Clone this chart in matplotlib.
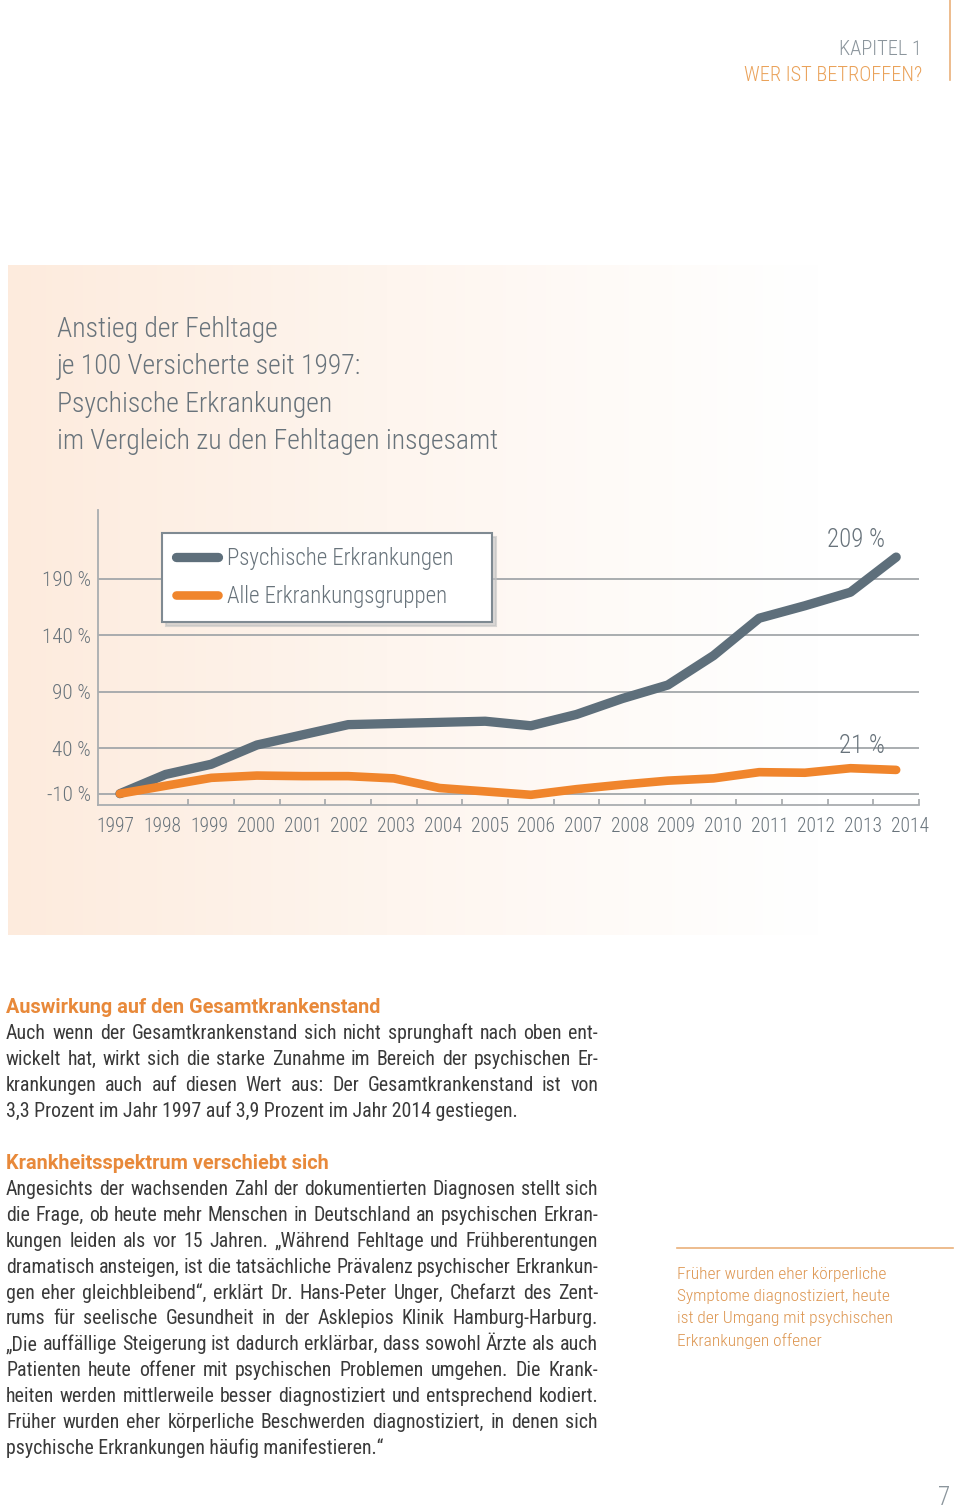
import numpy as np
import matplotlib
matplotlib.use('Agg')
import matplotlib.pyplot as plt

# data (increase since 1997, in %)
jahre = list(range(1997, 2015))
psychisch = [0, 17, 26, 43, 52, 61, 62, 63, 64, 60, 70, 84, 96, 122, 155, 166, 178, 209]
alle = [0, 7, 14, 16, 15.5, 15.5, 13.5, 5, 2, -1, 4, 8, 11.5, 13.5, 19, 18.5, 22.5, 21]

y_ticks = [0, 40, 90, 140, 190]
y_labels = ['-10 %', '40 %', '90 %', '140 %', '190 %']
legend_labels = ['Psychische Erkrankungen', 'Alle Erkrankungsgruppen']

titel = ['Anstieg der Fehltage', 'je 100 Versicherte seit 1997:',
         'Psychische Erkrankungen', 'im Vergleich zu den Fehltagen insgesamt']

absatz1 = ['Auch wenn der Gesamtkrankenstand sich nicht sprunghaft nach oben ent-',
           'wickelt hat, wirkt sich die starke Zunahme im Bereich der psychischen Er-',
           'krankungen auch auf diesen Wert aus: Der Gesamtkrankenstand ist von',
           '3,3 Prozent im Jahr 1997 auf 3,9 Prozent im Jahr 2014 gestiegen.']
absatz2 = ['Angesichts der wachsenden Zahl der dokumentierten Diagnosen stellt sich',
           'die Frage, ob heute mehr Menschen in Deutschland an psychischen Erkran-',
           'kungen leiden als vor 15 Jahren. \u201eWährend Fehltage und Frühberentungen',
           'dramatisch ansteigen, ist die tatsächliche Prävalenz psychischer Erkrankun-',
           'gen eher gleichbleibend\u201c, erklärt Dr. Hans-Peter Unger, Chefarzt des Zent-',
           'rums für seelische Gesundheit in der Asklepios Klinik Hamburg-Harburg.',
           '\u201eDie auffällige Steigerung ist dadurch erklärbar, dass sowohl Ärzte als auch',
           'Patienten heute offener mit psychischen Problemen umgehen. Die Krank-',
           'heiten werden mittlerweile besser diagnostiziert und entsprechend kodiert.',
           'Früher wurden eher körperliche Beschwerden diagnostiziert, in denen sich',
           'psychische Erkrankungen häufig manifestieren.\u201c']
randnotiz = ['Früher wurden eher körperliche', 'Symptome diagnostiziert, heute',
             'ist der Umgang mit psychischen', 'Erkrankungen offener']

W, H = 960, 1507
NARROW = ['Roboto Condensed', 'Liberation Sans Narrow', 'Roboto', 'DejaVu Sans']
GREY = '#5e6f7b'
ORANGE = '#f0852c'
TXTGREY = '#68737b'
HEAD_OR = '#e8893a'

fig = plt.figure(figsize=(W / 100, H / 100), dpi=100)
renderer = fig.canvas.get_renderer()


def fx(x):
    return x / W


def fy(y):
    return 1 - y / H


def fit(text, target, **kw):
    # font size (pt) that makes `text` about `target` px wide
    t = fig.text(0, 0, text, fontsize=10, **kw)
    w = t.get_window_extent(renderer).width
    t.remove()
    return 10 * target / w


light = dict(family=NARROW, weight='light')

# background panel with peach gradient
bg = fig.add_axes([0, 0, 1, 1], zorder=-5)
bg.set_xlim(0, W)
bg.set_ylim(H, 0)
bg.axis('off')
t = np.linspace(0, 1, 400)
fade = np.clip(1 - t / 0.85, 0, 1) ** 1.1
peach = np.array([253, 235, 221]) / 255
grad = 1 - (1 - peach)[None, :] * fade[:, None]
bg.imshow(grad[None, :, :], extent=(8, W, 935, 265), aspect='auto', interpolation='bilinear')

# header
hs = fit('WER IST BETROFFEN?', 177, **light)
fig.text(fx(922), fy(55), 'KAPITEL 1', fontsize=hs, color='#8b959c', ha='right', **light)
fig.text(fx(922), fy(81), 'WER IST BETROFFEN?', fontsize=hs, color='#eaa25a', ha='right', **light)
bg.plot([950, 950], [0, 80], color='#eab07a', lw=1.2)

# chart title
ts = fit(titel[3], 442, **light)
for i, zeile in enumerate(titel):
    fig.text(fx(57), fy(337 + 37.3 * i), zeile, fontsize=ts, color=TXTGREY, **light)

# chart axes
ax = fig.add_axes([fx(98), fy(805), fx(919) - fx(98), (805 - 510) / H])
ax.patch.set_alpha(0)
ax.plot(jahre, psychisch, color=GREY, lw=6.7, solid_capstyle='round', solid_joinstyle='round',
        label=legend_labels[0], zorder=4)
ax.plot(jahre, alle, color=ORANGE, lw=6.2, solid_capstyle='round', solid_joinstyle='round',
        label=legend_labels[1], zorder=4)
ax.set_xlim(1996.52, 2014.5)
ax.set_ylim(-10, 250.6)
for v in y_ticks:
    ax.axhline(v, color='#a3a7aa', lw=1.3, zorder=1)

tick_size = fit('1997', 38, **light)
ax.set_yticks(y_ticks)
ax.set_yticklabels(y_labels, fontsize=tick_size * 1.08, color=TXTGREY, **light)
ax.tick_params(axis='y', length=0, pad=5)

# year labels are set slightly wider than the data points
label_pos = [1996.91 + 1.023 * k for k in range(len(jahre))]
ax.set_xticks(label_pos)
ax.set_xticklabels([str(j) for j in jahre], fontsize=tick_size, color=TXTGREY, **light)
ax.tick_params(axis='x', length=0, pad=9)
ax.set_xticks([j + 0.5 for j in jahre[1:]], minor=True)
ax.tick_params(axis='x', which='minor', direction='in', length=4.5, width=1.2, color='#a3a7aa')

for s in ['top', 'right']:
    ax.spines[s].set_visible(False)
for s in ['left', 'bottom']:
    ax.spines[s].set_color('#a9adb0')
    ax.spines[s].set_linewidth(1.3)

ann = fit('209 %', 58, **light)
ax.annotate('209 %', (jahre[-1], psychisch[-1]), xytext=(-29, 12), textcoords='offset points',
            ha='center', va='center', fontsize=ann, color=TXTGREY, **light)
ax.annotate('21 %', (jahre[-1], alle[-1]), xytext=(-25, 17.5), textcoords='offset points',
            ha='center', va='center', fontsize=ann, color=TXTGREY, **light)

ls = fit(legend_labels[0], 226, **light)
leg = ax.legend(loc='upper left', bbox_to_anchor=(fx(162), fy(621), fx(492) - fx(162), (621 - 533) / H),
                bbox_transform=fig.transFigure, mode='expand', borderaxespad=0,
                prop={'family': NARROW, 'weight': 'light', 'size': ls}, labelcolor=TXTGREY,
                handlelength=1.85, handletextpad=0.4, labelspacing=0.68, borderpad=0.6,
                fancybox=False, framealpha=1, edgecolor='#7f8a92',
                shadow={'color': '#c2c2c2', 'alpha': 0.6, 'ox': 3, 'oy': -3})
leg.get_frame().set_linewidth(1.5)
leg.set_zorder(6)


def justify_line(text, x0, x1, y, **kw):
    words = text.split(' ')
    arts = [fig.text(0, 0, w, **kw) for w in words]
    widths = [a.get_window_extent(renderer).width for a in arts]
    gap = (x1 - x0 - sum(widths)) / (len(words) - 1)
    x = x0
    for a, w in zip(arts, widths):
        a.set_position((fx(x), fy(y)))
        x += w + gap


def body_size():
    widest = 0
    for zeile in absatz1[:-1] + absatz2[:-1]:
        t = fig.text(0, 0, zeile, fontsize=10, family=NARROW)
        widest = max(widest, t.get_window_extent(renderer).width)
        t.remove()
    return 10 * 588 / widest


body_kw = dict(family=NARROW, fontsize=body_size(), color='#3a3a3a', va='baseline')
head_fam = ['Roboto', 'Liberation Sans', 'DejaVu Sans']
head_kw = dict(family=head_fam, weight='bold', color=HEAD_OR, va='baseline',
               fontsize=fit('Auswirkung auf den Gesamtkrankenstand', 375, family=head_fam, weight='bold'))

fig.text(fx(6), fy(1013), 'Auswirkung auf den Gesamtkrankenstand', **head_kw)
for i, zeile in enumerate(absatz1):
    y = 1039 + 26 * i
    if i < len(absatz1) - 1:
        justify_line(zeile, 6, 598, y, **body_kw)
    else:
        fig.text(fx(6), fy(y), zeile, **body_kw)

fig.text(fx(6), fy(1169), 'Krankheitsspektrum verschiebt sich', **head_kw)
for i, zeile in enumerate(absatz2):
    y = 1195 + 25.9 * i
    if i < len(absatz2) - 1:
        justify_line(zeile, 6, 598, y, **body_kw)
    else:
        fig.text(fx(6), fy(y), zeile, **body_kw)

# side note
bg.plot([677, 953], [1248, 1248], color='#eab07a', lw=1.2)
rs = fit(randnotiz[0], 208, **light)
for i, zeile in enumerate(randnotiz):
    fig.text(fx(677), fy(1279 + 22.2 * i), zeile, fontsize=rs, color='#dd9651', va='baseline', **light)

fig.text(fx(950), fy(1505), '7', fontsize=tick_size * 1.3, color='#8b959c', ha='right', va='baseline', **light)

fig.savefig('out.png', dpi=100)
